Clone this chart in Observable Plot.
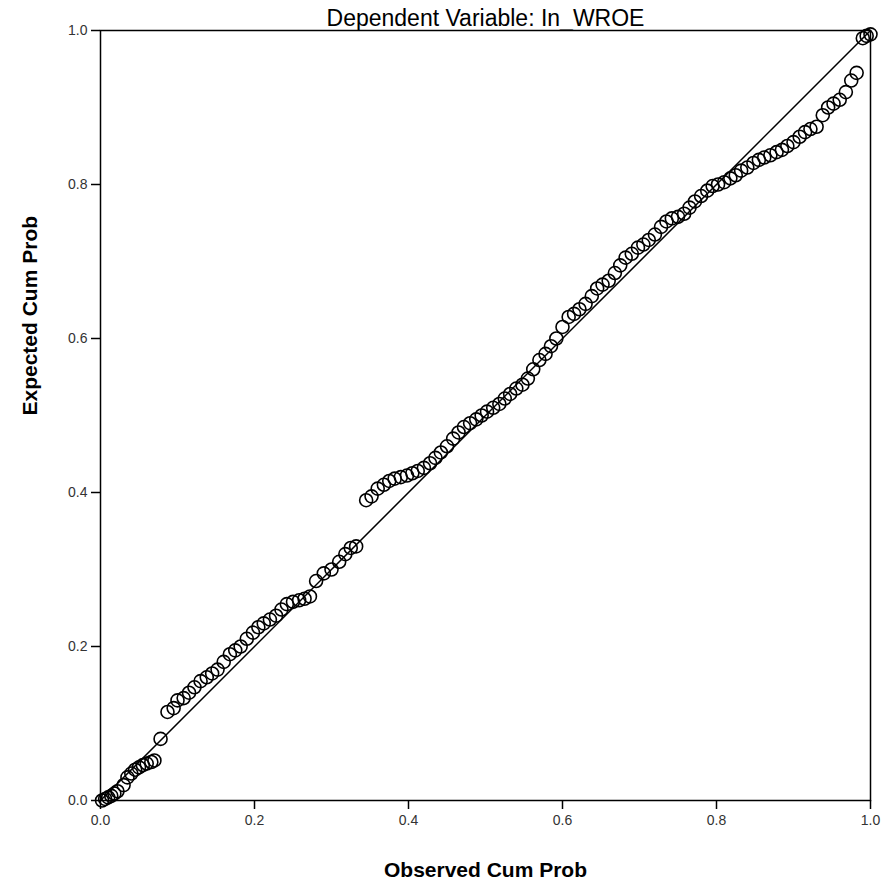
<!DOCTYPE html>
<html>
<head>
<meta charset="utf-8">
<script src="https://cdn.jsdelivr.net/npm/d3@7"></script>
<script src="https://cdn.jsdelivr.net/npm/@observablehq/plot@0.6"></script>
<style>
  html, body { margin: 0; padding: 0; background: #fff; }
  #chart svg { display: block; }
</style>
</head>
<body>
<div id="chart"></div>
<script>
const title = "Dependent Variable: In_WROE";
const xLabel = "Observed Cum Prob";
const yLabel = "Expected Cum Prob";
const tickValues = [0, 0.2, 0.4, 0.6, 0.8, 1.0];
const refLine = [0, 1];

const observed = [
  0.002, 0.006, 0.010, 0.014, 0.018, 0.022,
  0.030, 0.035, 0.040, 0.045, 0.050, 0.055, 0.060, 0.066, 0.070,
  0.078,
  0.087, 0.095, 0.100, 0.108, 0.115, 0.122, 0.130, 0.138, 0.145, 0.152,
  0.160, 0.168, 0.175, 0.182, 0.190, 0.198, 0.205, 0.212, 0.220, 0.228,
  0.235, 0.242, 0.250, 0.258, 0.265, 0.272,
  0.280, 0.290, 0.300, 0.310, 0.318, 0.325, 0.332,
  0.345, 0.352, 0.360, 0.368, 0.375, 0.382, 0.390, 0.398, 0.405, 0.412,
  0.420, 0.428, 0.435, 0.442, 0.450, 0.458, 0.465, 0.472, 0.480, 0.488,
  0.495, 0.502, 0.510, 0.518, 0.525, 0.532, 0.540, 0.548, 0.555, 0.562,
  0.570, 0.578, 0.585, 0.592, 0.600, 0.608, 0.615, 0.622, 0.630, 0.638,
  0.645, 0.652, 0.660, 0.668, 0.675, 0.682, 0.690, 0.698, 0.705, 0.712,
  0.720, 0.728, 0.735, 0.742, 0.750, 0.758, 0.765, 0.772, 0.780, 0.788,
  0.795, 0.802, 0.810, 0.818, 0.825, 0.832, 0.840, 0.848, 0.855, 0.862,
  0.870, 0.878, 0.885, 0.892, 0.900, 0.908, 0.915, 0.922, 0.930, 0.938,
  0.945, 0.952, 0.960, 0.968, 0.975, 0.982,
  0.990, 0.995, 1.000
];
const expected = [
  0.000, 0.002, 0.004, 0.006, 0.009, 0.012,
  0.020, 0.030, 0.035, 0.040, 0.043, 0.046, 0.048, 0.050, 0.052,
  0.080,
  0.115, 0.120, 0.130, 0.133, 0.140, 0.147, 0.155, 0.160, 0.165, 0.170,
  0.180, 0.190, 0.195, 0.200, 0.210, 0.218, 0.225, 0.230, 0.235, 0.240,
  0.248, 0.255, 0.258, 0.260, 0.262, 0.265,
  0.285, 0.295, 0.300, 0.310, 0.320, 0.328, 0.330,
  0.390, 0.395, 0.405, 0.410, 0.415, 0.418, 0.420, 0.422, 0.425, 0.428,
  0.432, 0.438, 0.445, 0.452, 0.460, 0.470, 0.478, 0.485, 0.490, 0.495,
  0.500, 0.505, 0.510, 0.515, 0.522, 0.528, 0.535, 0.540, 0.548, 0.560,
  0.572, 0.580, 0.590, 0.600, 0.615, 0.628, 0.632, 0.638, 0.645, 0.655,
  0.665, 0.670, 0.675, 0.685, 0.695, 0.705, 0.710, 0.718, 0.722, 0.728,
  0.735, 0.745, 0.752, 0.756, 0.758, 0.762, 0.770, 0.778, 0.785, 0.792,
  0.798, 0.800, 0.803, 0.808, 0.812, 0.818, 0.822, 0.828, 0.832, 0.835,
  0.838, 0.842, 0.845, 0.850, 0.855, 0.862, 0.868, 0.872, 0.875, 0.890,
  0.900, 0.905, 0.910, 0.920, 0.935, 0.945,
  0.990, 0.993, 0.995
];

const points = observed.map((x, i) => ({x, y: expected[i]}));
const fmt = d3.format(".1f");

const W = 885, H = 887, mL = 100, mR = 15, mT = 30, mB = 87;
const innerW = W - mL - mR, innerH = H - mT - mB;
const tickLen = 9;

const chart = Plot.plot({
  width: W,
  height: H,
  marginLeft: mL,
  marginRight: mR,
  marginTop: mT,
  marginBottom: mB,
  style: {fontFamily: "Liberation Sans, Arial, sans-serif", fontSize: "14px", background: "#fff", color: "#000"},
  x: {domain: [0, 1], label: null},
  y: {domain: [0, 1], label: null},
  marks: [
    Plot.axisX({ticks: tickValues, tickFormat: fmt, tickSize: 0, tickPadding: 15, label: null, fill: "#333"}),
    Plot.axisY({ticks: tickValues, tickFormat: fmt, tickSize: 0, tickPadding: 13, label: null, fill: "#333"}),
    Plot.ruleX(tickValues, {x: d => d, insetTop: innerH, insetBottom: -tickLen, stroke: "#000", strokeWidth: 1.5}),
    Plot.ruleY(tickValues, {y: d => d, insetLeft: -tickLen, insetRight: innerW, stroke: "#000", strokeWidth: 1.5}),
    Plot.frame({stroke: "#000", strokeWidth: 1.5}),
    Plot.line(refLine, {x: d => d, y: d => d, stroke: "#000", strokeWidth: 1.5}),
    Plot.dot(points, {x: "x", y: "y", r: 6.5, stroke: "#000", strokeWidth: 1.6, fill: "none"}),
    Plot.text([title], {frameAnchor: "top", lineAnchor: "bottom", dy: -5, text: d => d, fontSize: 23, fill: "#000"}),
    Plot.text([xLabel], {frameAnchor: "bottom", dy: 76, text: d => d, fontSize: 21, fontWeight: "bold", fill: "#000"}),
    Plot.text([yLabel], {frameAnchor: "left", dx: -70, rotate: -90, text: d => d, fontSize: 21, fontWeight: "bold", fill: "#000"})
  ]
});
document.getElementById("chart").appendChild(chart);
</script>
</body>
</html>
